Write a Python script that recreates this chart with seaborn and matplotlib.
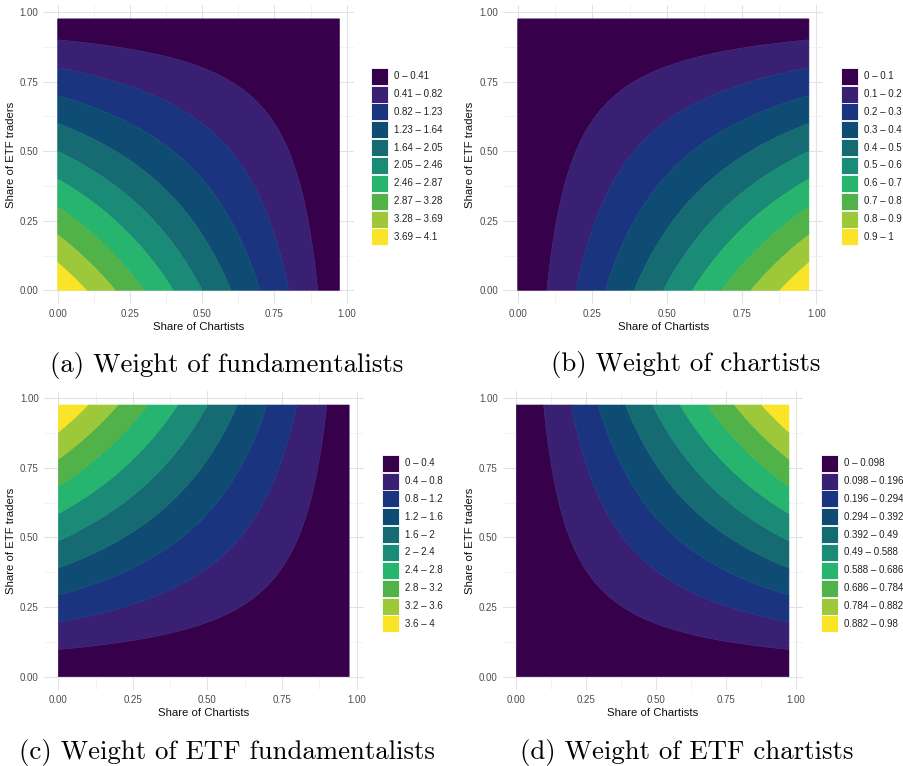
import numpy as np
import matplotlib
matplotlib.use("Agg")
import matplotlib.pyplot as plt
from matplotlib.patches import Patch
import seaborn as sns

# Grid of shares (chartists on x, ETF traders on y)
share = [0.000, 0.025, 0.050, 0.075, 0.100, 0.125, 0.150, 0.175, 0.200, 0.225,
         0.250, 0.275, 0.300, 0.325, 0.350, 0.375, 0.400, 0.425, 0.450, 0.475,
         0.500, 0.525, 0.550, 0.575, 0.600, 0.625, 0.650, 0.675, 0.700, 0.725,
         0.750, 0.775, 0.800, 0.825, 0.850, 0.875, 0.900, 0.925, 0.950, 0.975]

# Peak weight of each trader group (reached at one corner of the grid)
peak_fund = 4.1
peak_chart = 1.0
peak_etf_fund = 4.0
peak_etf_chart = 0.98

# Contour breaks shown in each legend
breaks_fund = [0, 0.41, 0.82, 1.23, 1.64, 2.05, 2.46, 2.87, 3.28, 3.69, 4.1]
breaks_chart = [0, 0.1, 0.2, 0.3, 0.4, 0.5, 0.6, 0.7, 0.8, 0.9, 1]
breaks_etf_fund = [0, 0.4, 0.8, 1.2, 1.6, 2, 2.4, 2.8, 3.2, 3.6, 4]
breaks_etf_chart = [0, 0.098, 0.196, 0.294, 0.392, 0.49, 0.588, 0.686, 0.784, 0.882, 0.98]

captions = ["(a) Weight of fundamentalists", "(b) Weight of chartists",
            "(c) Weight of ETF fundamentalists", "(d) Weight of ETF chartists"]

band_colors = ["#36004a", "#3a2072", "#1b3480", "#0f4c74", "#166a72",
               "#1a8b76", "#26b46e", "#50b248", "#9cc83a", "#fae428"]

sns.set_theme(style="white")
plt.rcParams["font.family"] = ["Liberation Sans", "DejaVu Sans"]

W, H = 904, 766
fig = plt.figure(figsize=(W / 100, H / 100), dpi=100)

s = np.array(share)
rising = s / s.max()
falling = 1.0 - s
X, Y = np.meshgrid(s, s)

surfaces = [
    peak_fund * np.outer(falling, falling),
    peak_chart * np.outer(falling, rising),
    peak_etf_fund * np.outer(rising, falling),
    peak_etf_chart * np.outer(rising, rising),
]
all_breaks = [breaks_fund, breaks_chart, breaks_etf_fund, breaks_etf_chart]

# panel boxes in pixels: left, right, top, bottom
boxes = [(43.5, 353.6, 5.3, 303.9), (503.1, 823.5, 5.3, 303.9),
         (43.8, 363.7, 391.4, 690.3), (502.7, 802.6, 391.4, 690.3)]
# legend anchor (left of keys, top of first key) in pixels
legend_pos = [(371, 67.7), (841.3, 67.7), (381.7, 454.7), (821, 454.7)]
caption_pos = [(226.5, 372), (686, 371), (226.7, 759), (687, 759)]

lo, hi = -0.04875, 1.02375
for i in range(4):
    l, r, t, b = boxes[i]
    ax = fig.add_axes([l / W, 1 - b / H, (r - l) / W, (b - t) / H])
    ax.set_facecolor("white")
    cs = ax.contourf(X, Y, surfaces[i], levels=all_breaks[i], colors=band_colors,
                     antialiased=True, zorder=2)
    cs.set_edgecolor("face")
    cs.set_linewidth(0.4)
    ax.set_xlim(lo, hi)
    ax.set_ylim(lo, hi)
    ticks = [0, 0.25, 0.5, 0.75, 1.0]
    ax.set_xticks(ticks)
    ax.set_yticks(ticks)
    ax.set_xticklabels([f"{v:.2f}" for v in ticks])
    ax.set_yticklabels([f"{v:.2f}" for v in ticks])
    ax.set_xticks([0.125, 0.375, 0.625, 0.875], minor=True)
    ax.set_yticks([0.125, 0.375, 0.625, 0.875], minor=True)
    ax.grid(True, which="major", color="#e3e3e3", linewidth=0.8, zorder=0)
    ax.grid(True, which="minor", color="#eeeeee", linewidth=0.5, zorder=0)
    ax.set_axisbelow(True)
    ax.tick_params(which="both", length=0, pad=3.6, labelsize=7, labelcolor="#4d4d4d")
    for sp in ax.spines.values():
        sp.set_visible(False)
    ax.set_xlabel("Share of Chartists", fontsize=8.2, color="#111111", labelpad=2)
    ax.set_ylabel("Share of ETF traders", fontsize=8.2, color="#111111", labelpad=3)

    br = all_breaks[i]
    handles = [Patch(facecolor=band_colors[k], edgecolor="white", linewidth=0.6)
               for k in range(10)]
    labels = [f"{br[k]:g} \u2013 {br[k + 1]:g}" for k in range(10)]
    lx, ly = legend_pos[i]
    ax.legend(handles, labels, loc="upper left",
              bbox_to_anchor=(lx / W, 1 - ly / H), bbox_transform=fig.transFigure,
              frameon=False, borderpad=0, borderaxespad=0,
              handlelength=1.75, handleheight=2.31, handletextpad=0.6,
              labelspacing=0.09, fontsize=7, labelcolor="#222222")

    cx, cy = caption_pos[i]
    fig.text(cx / W, 1 - cy / H, captions[i], ha="center", va="baseline",
             fontsize=19.3, family="cmr10", color="black")

fig.savefig("out.png", dpi=100, facecolor="white")
